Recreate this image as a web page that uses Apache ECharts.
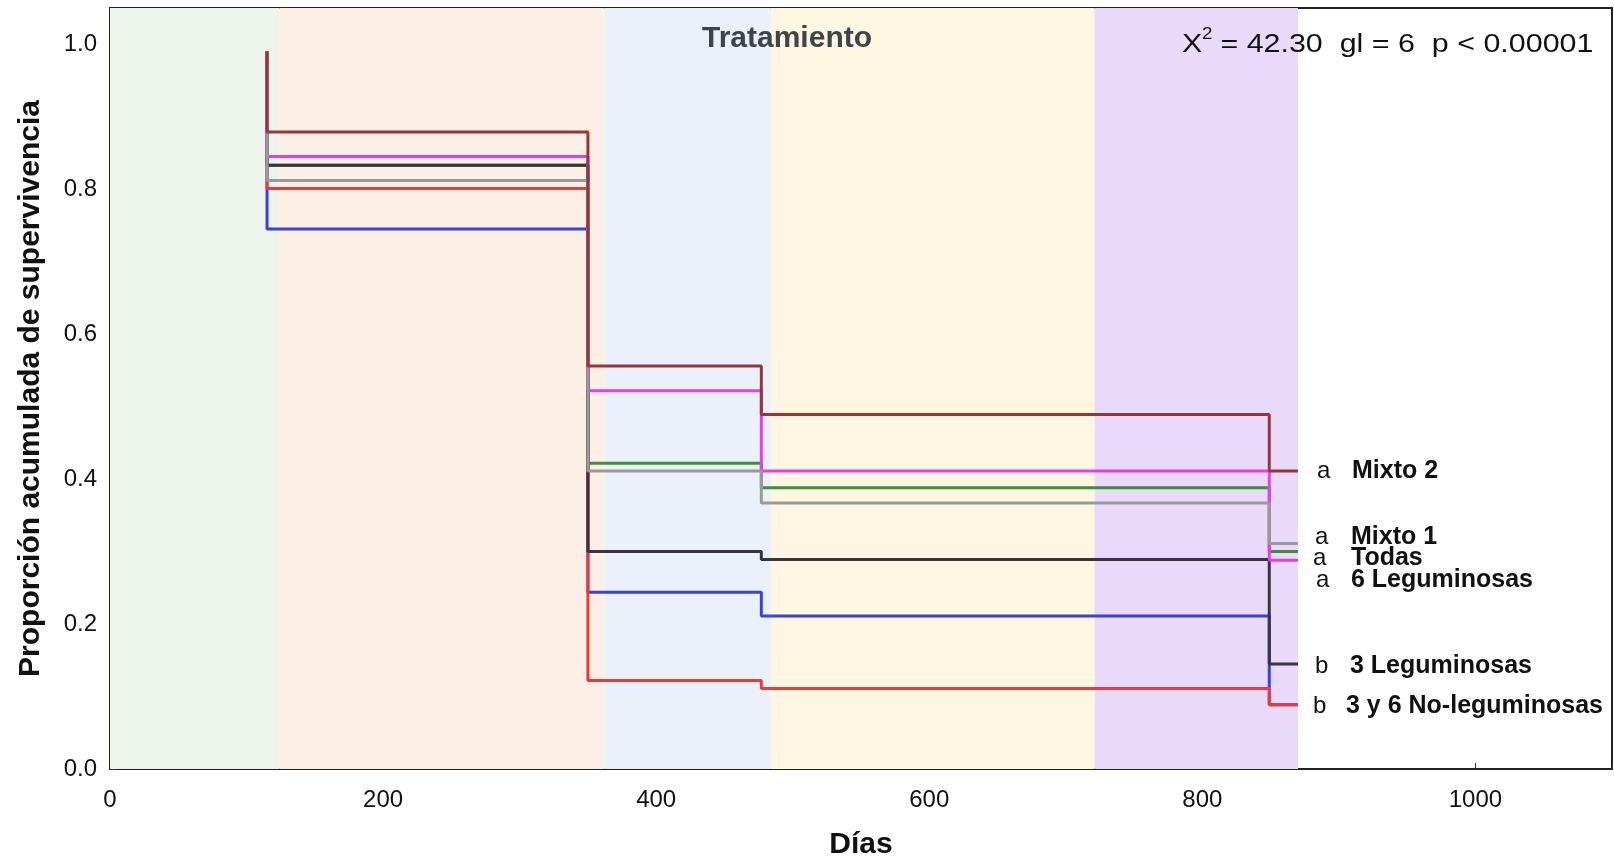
<!DOCTYPE html>
<html>
<head>
<meta charset="utf-8">
<script src="https://cdn.jsdelivr.net/npm/echarts@6/dist/echarts.min.js"></script>
<style>
html,body{margin:0;padding:0;background:#fff;}
#chart{width:1614px;height:858px;}
</style>
</head>
<body>
<div id="chart"></div>
<script>
// ---- data ----
var stepDays = [115, 115, 350, 477, 849, 870];
var mixto2 = [0.99, 0.879, 0.556, 0.489, 0.411, 0.411];
var mixto1 = [0.99, 0.812, 0.411, 0.367, 0.311, 0.311];
var todas = [0.99, 0.833, 0.422, 0.388, 0.300, 0.300];
var leg6 = [0.99, 0.845, 0.522, 0.411, 0.288, 0.288];
var leg3 = [0.99, 0.833, 0.300, 0.289, 0.145, 0.145];
var noLeg3 = [0.99, 0.801, 0.122, 0.111, 0.0885, 0.0885];
var noLeg6 = [0.99, 0.745, 0.244, 0.211, 0.0885, 0.0885];
var bandStart = [0, 124, 362, 484, 721];
var bandEnd = [124, 362, 484, 721, 870];
var xTicks = [0, 200, 400, 600, 800, 1000];
var yTicks = [0.0, 0.2, 0.4, 0.6, 0.8, 1.0];
var endLabels = ['Mixto 2', 'Mixto 1', 'Todas', '6 Leguminosas', '3 Leguminosas', '3 y 6 No-leguminosas'];
var endLetters = ['a', 'a', 'a', 'a', 'b', 'b'];
var statX = 'X';
var statSup = '2';
var statRest = ' = 42.30  gl = 6  p < 0.00001';

// ---- styles ----
var bandColors = ['#edf5ea', '#fcefe5', '#eaf1fa', '#fdf6e1', '#e9d9fa'];
var FONT = '"Liberation Sans", Arial, Helvetica, sans-serif';

function pts(vals) { return stepDays.map(function (d, i) { return [d, vals[i]]; }); }

var seriesDefs = [
  { name: '6 No-leguminosas', vals: noLeg6, color: '#3b3fe0' },
  { name: '3 No-leguminosas', vals: noLeg3, color: '#ec3b33' },
  { name: 'Todas', vals: todas, color: '#3d8f3a' },
  { name: '3 Leguminosas', vals: leg3, color: '#36343f' },
  { name: '6 Leguminosas', vals: leg6, color: '#e53fe3' },
  { name: 'Mixto 1', vals: mixto1, color: '#9c9a98' },
  { name: 'Mixto 2', vals: mixto2, color: '#973638' }
];

var series = [{
  type: 'line', data: [], silent: true, z: 1,
  markArea: {
    silent: true,
    data: bandStart.map(function (s, i) {
      return [{ xAxis: s, itemStyle: { color: bandColors[i] } }, { xAxis: bandEnd[i] }];
    })
  }
}];
seriesDefs.forEach(function (s) {
  series.push({
    type: 'line', name: s.name, data: pts(s.vals), step: 'end',
    showSymbol: false, symbol: 'none', silent: true, z: 3,
    lineStyle: { color: s.color, width: 3 }
  });
});

function isTick(v, arr) { return arr.some(function (t) { return Math.abs(t - v) < 1e-6; }); }

// annotation text positions (pixels)
var labelY = [471, 537, 558, 580, 666, 706];
var letterX = [1317, 1315, 1313, 1316, 1315, 1313];
var nameX = [1352, 1351, 1351, 1351, 1350, 1346];
var graphics = [];
endLabels.forEach(function (t, i) {
  graphics.push({ type: 'text', z: 10, style: { text: endLetters[i], x: letterX[i], y: labelY[i], font: '24px ' + FONT, fill: '#111', textVerticalAlign: 'middle', verticalAlign: 'middle' } });
  graphics.push({ type: 'text', z: 10, style: { text: t, x: nameX[i], y: labelY[i], font: 'bold 25px ' + FONT, fill: '#111', textVerticalAlign: 'middle', verticalAlign: 'middle' } });
});
graphics.push({ type: 'text', z: 10, style: { text: 'Tratamiento', x: 787, y: 39, font: 'bold 30px ' + FONT, fill: '#3d444c', textAlign: 'center', textVerticalAlign: 'middle', align: 'center', verticalAlign: 'middle' } });

var SX = 1.17;
graphics.push({ type: 'text', z: 10, x: 1182, y: 45, scaleX: SX,
  style: { text: statX, x: 0, y: 0, font: '26px ' + FONT, fill: '#111', textVerticalAlign: 'middle', verticalAlign: 'middle' } });
graphics.push({ type: 'text', z: 10, x: 1202, y: 35, scaleX: SX,
  style: { text: statSup, x: 0, y: 0, font: '16px ' + FONT, fill: '#111', textVerticalAlign: 'middle', verticalAlign: 'middle' } });
graphics.push({ type: 'text', z: 10, x: 1212, y: 45, scaleX: SX,
  style: { text: statRest, x: 0, y: 0, font: '26px ' + FONT, fill: '#111', textVerticalAlign: 'middle', verticalAlign: 'middle' } });

var axisLineStyle = { show: true, onZero: false, lineStyle: { color: '#222', width: 2 } };

var option = {
  animation: false,
  backgroundColor: '#ffffff',
  textStyle: { fontFamily: FONT },
  grid: { left: 110, right: 2, top: 8, bottom: 89, containLabel: false, outerBoundsMode: 'none' },
  xAxis: [{
    type: 'value', min: 0, max: 1100, interval: 200, position: 'bottom',
    name: 'Días', nameLocation: 'middle', nameGap: 61,
    nameTextStyle: { fontSize: 30, fontWeight: 'bold', color: '#111', fontFamily: FONT },
    axisLine: axisLineStyle,
    axisTick: { show: true, inside: true, length: 6, lineStyle: { color: '#333', width: 1 } },
    axisLabel: { fontSize: 24, color: '#111', margin: 19, fontFamily: FONT,
      formatter: function (v) { return isTick(v, xTicks) ? String(v) : ''; } },
    splitLine: { show: false }
  }, {
    type: 'value', min: 0, max: 1100, position: 'top',
    axisLine: axisLineStyle, axisTick: { show: false }, axisLabel: { show: false }, splitLine: { show: false }
  }],
  yAxis: [{
    type: 'value', min: 0, max: 1.05, interval: 0.2, position: 'left',
    name: 'Proporción acumulada de supervivencia', nameLocation: 'middle', nameGap: 64, nameRotate: 90,
    nameTextStyle: { fontSize: 30, fontWeight: 'bold', color: '#111', fontFamily: FONT },
    axisLine: axisLineStyle,
    axisTick: { show: true, inside: true, length: 6, lineStyle: { color: '#333', width: 1 } },
    axisLabel: { fontSize: 24, color: '#111', margin: 13, fontFamily: FONT,
      formatter: function (v) { return isTick(v, yTicks) ? v.toFixed(1) : ''; } },
    splitLine: { show: false }
  }, {
    type: 'value', min: 0, max: 1.05, position: 'right',
    axisLine: axisLineStyle, axisTick: { show: false }, axisLabel: { show: false }, splitLine: { show: false }
  }],
  series: series,
  graphic: graphics
};

var chart = echarts.init(document.getElementById('chart'), null, { renderer: 'canvas' });
chart.setOption(option);
</script>
</body>
</html>
